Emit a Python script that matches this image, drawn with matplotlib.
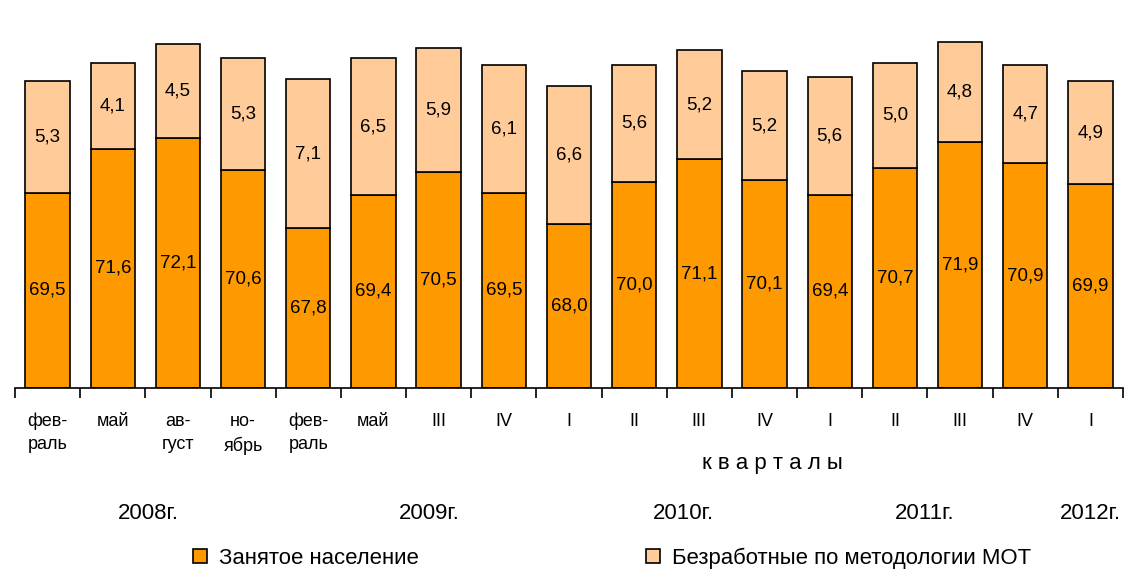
import matplotlib.pyplot as plt
from matplotlib.ticker import FixedLocator

plt.rcParams['font.family'] = ['Liberation Sans', 'DejaVu Sans']

categories = ["фев-\nраль", "май", "ав-\nгуст", "но-\nябрь", "фев-\nраль", "май",
              "III", "IV", "I", "II", "III", "IV", "I", "II", "III", "IV", "I"]
employed = [69.5, 71.6, 72.1, 70.6, 67.8, 69.4, 70.5, 69.5, 68.0,
            70.0, 71.1, 70.1, 69.4, 70.7, 71.9, 70.9, 69.9]
unemployed = [5.3, 4.1, 4.5, 5.3, 7.1, 6.5, 5.9, 6.1, 6.6,
              5.6, 5.2, 5.2, 5.6, 5.0, 4.8, 4.7, 4.9]
years = ["2008г.", "2009г.", "2010г.", "2011г.", "2012г."]
year_x = [1.55, 5.85, 9.75, 13.45, 16.0]

base = 60.2
fig = plt.figure(figsize=(11.24, 5.71), dpi=100)
ax = fig.add_axes([15 / 1124, 183 / 571, 1108 / 1124, 358 / 571])

x = range(len(categories))
low = [v - base for v in employed]
b1 = ax.bar(x, low, bottom=base, width=0.68, color="#FF9900",
            edgecolor="black", linewidth=1.2, label="Занятое население")
b2 = ax.bar(x, unemployed, bottom=employed, width=0.68, color="#FFCC99",
            edgecolor="black", linewidth=1.2, label="Безработные по методологии МОТ")

for i in x:
    ax.text(i, (base + employed[i]) / 2, f"{employed[i]:.1f}".replace(".", ","),
            ha="center", va="center", fontsize=13.5)
    ax.text(i, employed[i] + unemployed[i] / 2, f"{unemployed[i]:.1f}".replace(".", ","),
            ha="center", va="center", fontsize=13.5)

ax.set_xlim(-0.5, len(categories) - 0.5)
ax.set_ylim(base, base + 358 / 21)
for s in ("left", "top", "right"):
    ax.spines[s].set_visible(False)
ax.spines["bottom"].set_linewidth(1.2)
ax.set_yticks([])
ax.set_xticks(list(x))
ax.set_xticklabels(categories, fontsize=13, linespacing=1.45, va="top")
ax.tick_params(axis="x", which="major", length=0, pad=18)
ax.xaxis.set_minor_locator(FixedLocator([i - 0.5 for i in range(len(categories) + 1)]))
ax.tick_params(axis="x", which="minor", length=7, width=1.2, direction="out")

ax.text(11.12, -0.21, "к в а р т а л ы", transform=ax.get_xaxis_transform(),
        ha="center", va="center", fontsize=16)
for label, xp in zip(years, year_x):
    ax.text(xp, -0.35, label, transform=ax.get_xaxis_transform(),
            ha="center", va="center", fontsize=16)

fig.legend(handles=[b1, b2], loc="center left", bbox_to_anchor=(173 / 1124, 13 / 571),
           ncol=2, frameon=False, fontsize=15.9, handlelength=0.62, handleheight=0.62,
           handletextpad=0.55, columnspacing=10.3)

fig.savefig("out.png", dpi=100)
